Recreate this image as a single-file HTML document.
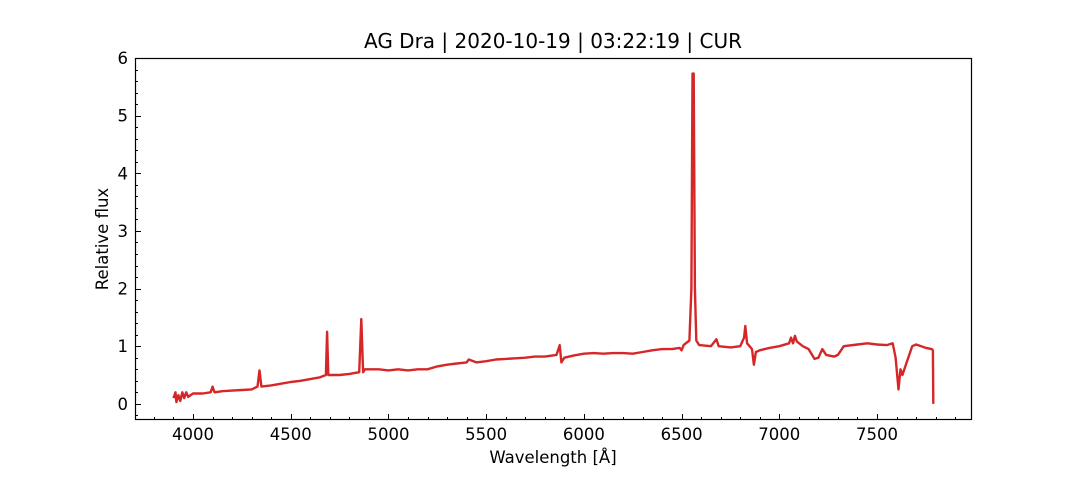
<!DOCTYPE html>
<html><head><meta charset="utf-8"><style>
body{margin:0;background:#fff;width:1080px;height:480px;overflow:hidden}
svg text{font-family:"DejaVu Sans","Liberation Sans",sans-serif;fill:#000}
</style></head><body>
<svg id="chart" width="1080" height="480">
<text x="553" y="48" font-size="20" text-anchor="middle">AG Dra | 2020-10-19 | 03:22:19 | CUR</text>
<g id="ticks"></g>
<path id="line" fill="none" stroke="#d62728" stroke-width="2.4" stroke-linejoin="round"/>
<rect x="135.5" y="58.5" width="836" height="361" fill="none" stroke="#000" stroke-width="1.2"/>
<text x="553" y="463" font-size="16.5" text-anchor="middle">Wavelength [Å]</text>
<text x="108" y="239" font-size="16.5" text-anchor="middle" transform="rotate(-90 108 239)">Relative flux</text>
</svg>
<script>
const wavelengths=[3900,3910,3915,3925,3935,3945,3955,3965,3975,4000,4050,4090,4100,4110,4150,4200,4250,4300,4330,4340,4350,4400,4450,4500,4550,4600,4650,4680,4686,4692,4750,4800,4850,4861,4870,4880,4950,5000,5050,5100,5150,5200,5250,5300,5350,5400,5411,5450,5500,5550,5600,5650,5700,5750,5800,5860,5876,5885,5900,5950,6000,6050,6100,6150,6200,6250,6300,6350,6400,6450,6490,6500,6510,6540,6550,6556,6562,6568,6575,6590,6650,6678,6690,6750,6800,6820,6826,6835,6860,6870,6880,6900,6950,7000,7050,7060,7070,7080,7090,7120,7150,7180,7200,7220,7240,7280,7300,7330,7400,7450,7500,7550,7580,7595,7610,7620,7630,7650,7680,7700,7750,7780,7786,7788];
const flux=[0.1,0.2,0.03,0.15,0.05,0.2,0.1,0.2,0.12,0.18,0.18,0.2,0.3,0.2,0.22,0.23,0.24,0.25,0.3,0.58,0.3,0.32,0.35,0.38,0.4,0.43,0.46,0.5,1.25,0.5,0.5,0.52,0.55,1.47,0.55,0.6,0.6,0.58,0.6,0.58,0.6,0.6,0.65,0.68,0.7,0.72,0.77,0.72,0.74,0.77,0.78,0.79,0.8,0.82,0.82,0.85,1.02,0.72,0.8,0.84,0.87,0.88,0.87,0.88,0.88,0.87,0.9,0.93,0.95,0.95,0.97,0.93,1.02,1.1,2.0,5.73,5.73,2.0,1.1,1.02,1.0,1.12,1.0,0.98,1.0,1.15,1.35,1.05,0.95,0.68,0.9,0.93,0.97,1.0,1.05,1.15,1.05,1.18,1.08,1.0,0.95,0.78,0.8,0.95,0.85,0.82,0.85,1.0,1.03,1.05,1.03,1.02,1.05,0.8,0.25,0.6,0.5,0.7,1.0,1.03,0.97,0.95,0.93,0.0];
const xTicks=[4000,4500,5000,5500,6000,6500,7000,7500];
const yTicks=[0,1,2,3,4,5,6];
const X0=135,X1=972,Y0=420,Y1=58,xmin=3703,xmax=7986,ymin=-0.28,ymax=6;
const sx=v=>X0+(v-xmin)/(xmax-xmin)*(X1-X0);
const sy=v=>Y0-(v-ymin)/(ymax-ymin)*(Y0-Y1);
const NS="http://www.w3.org/2000/svg";
let d="";
wavelengths.forEach((w,i)=>{d+=(i?"L":"M")+sx(w).toFixed(1)+" "+sy(flux[i]).toFixed(1);});
document.getElementById("line").setAttribute("d",d);
const g=document.getElementById("ticks");
function ln(x1,y1,x2,y2){const l=document.createElementNS(NS,"line");l.setAttribute("x1",x1);l.setAttribute("y1",y1);l.setAttribute("x2",x2);l.setAttribute("y2",y2);l.setAttribute("stroke","#000");


g.appendChild(l);}
function tx(x,y,s,a){const t=document.createElementNS(NS,"text");t.setAttribute("x",x);t.setAttribute("y",y);t.setAttribute("font-size","16.5");t.setAttribute("text-anchor",a);t.textContent=s;


g.appendChild(t);}
for(let w=3800;w<=7900;w+=100){const x=Math.round(sx(w))+0.5;const major=w%500===0;ln(x,Y0,x,Y0-(major?6:3));}
xTicks.forEach(w=>tx(sx(w),440,String(w),"middle"));
for(let k=-1;k<=30;k++){const v=k*0.2;if(v<ymin||v>ymax)continue;const y=Math.round(sy(v))+0.5;const major=k%5===0;ln(X0,y,X0+(major?6:3),y);}
yTicks.forEach(v=>tx(128,sy(v)+6,String(v),"end"));
</script>
</body></html>
